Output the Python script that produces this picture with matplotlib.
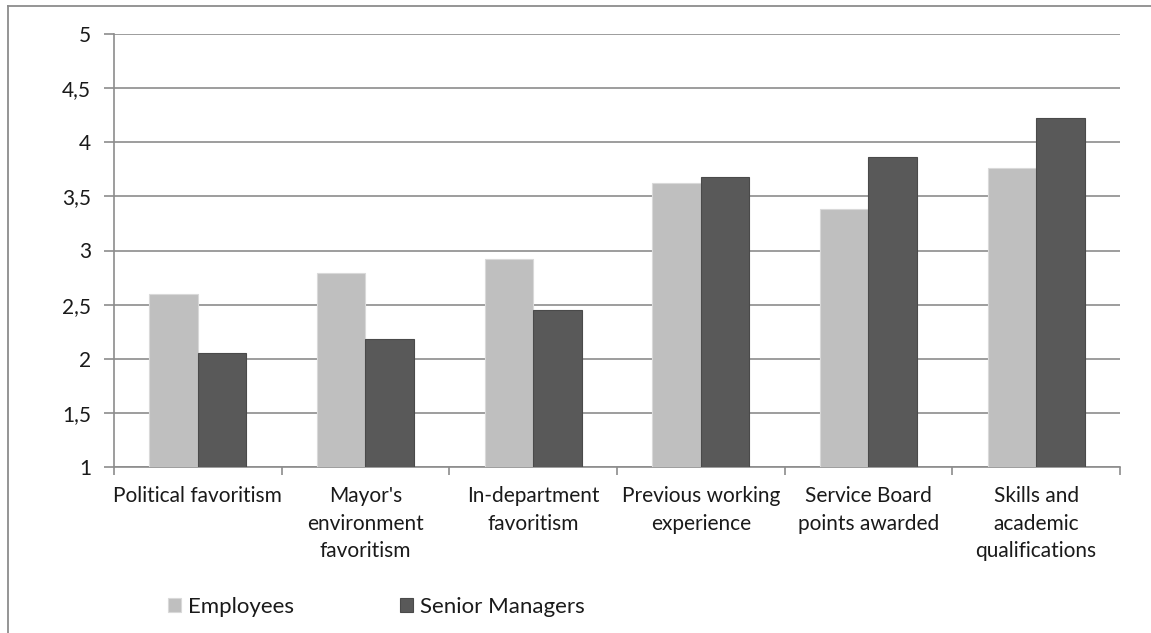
import matplotlib
matplotlib.use("Agg")
import matplotlib.pyplot as plt
from matplotlib.lines import Line2D
import numpy as np

categories = ["Political favoritism", "Mayor's\nenvironment\nfavoritism", "In-department\nfavoritism",
              "Previous working\nexperience", "Service Board\npoints awarded", "Skills and\nacademic\nqualifications"]
employees = [2.60, 2.79, 2.92, 3.62, 3.38, 3.76]
senior_managers = [2.05, 2.18, 2.45, 3.68, 3.86, 4.22]
series_names = ["Employees", "Senior Managers"]
yticks = [1, 1.5, 2, 2.5, 3, 3.5, 4, 4.5, 5]

plt.rcParams['font.family'] = ['Lato', 'DejaVu Sans']
W, H = 1151, 633
fig = plt.figure(figsize=(W/100, H/100), dpi=100)
ax = fig.add_axes([114/W, 1-467/H, (1120-114)/W, (467-34)/H])

x = np.arange(len(categories))
bw = 0.29
grid_c = '#8c8c8c'
ax.bar(x - bw/2, np.array(employees) - 1, bw, bottom=1, color='#bfbfbf', edgecolor='#d9d9d9', linewidth=0.8,
       label=series_names[0], zorder=3)
ax.bar(x + bw/2, np.array(senior_managers) - 1, bw, bottom=1, color='#595959', edgecolor='#4a4a4a', linewidth=0.8,
       label=series_names[1], zorder=3)

ax.set_xlim(-0.5, len(categories) - 0.5)
ax.set_ylim(1, 5)
ax.set_yticks(yticks)
ax.set_yticklabels([f"{v:g}".replace('.', ',') for v in yticks], fontsize=15, color='#1a1a1a')
ax.yaxis.grid(True, color=grid_c, linewidth=1.2, zorder=0)
ax.tick_params(axis='y', length=7, color=grid_c, width=1.2, pad=9.5)

ax.set_xticks(x)
ax.set_xticklabels(categories, fontsize=15, color='#1a1a1a', linespacing=1.45)
ax.tick_params(axis='x', which='major', length=0, pad=14)
ax.set_xticks(np.arange(len(categories) + 1) - 0.5, minor=True)
ax.tick_params(axis='x', which='minor', length=6, color=grid_c, width=1.2)

for s in ['top', 'right']:
    ax.spines[s].set_visible(False)
for s in ['left', 'bottom']:
    ax.spines[s].set_color(grid_c)
    ax.spines[s].set_linewidth(1.2)

leg = fig.legend(loc='center left', bbox_to_anchor=(168/W, 1-607/H), ncol=2, frameon=False,
                 fontsize=16, handlelength=0.58, handleheight=0.58, handletextpad=0.3,
                 columnspacing=4.8, borderpad=0, borderaxespad=0)
for t in leg.get_texts():
    t.set_color('#1a1a1a')

# outer chart frame
fig.add_artist(Line2D([8/W, 8/W], [0, 1-6/H], transform=fig.transFigure, color='#8c8c8c', linewidth=1.3))
fig.add_artist(Line2D([8/W, 1], [1-6/H, 1-6/H], transform=fig.transFigure, color='#8c8c8c', linewidth=1.3))

fig.savefig('out.png', dpi=100)
